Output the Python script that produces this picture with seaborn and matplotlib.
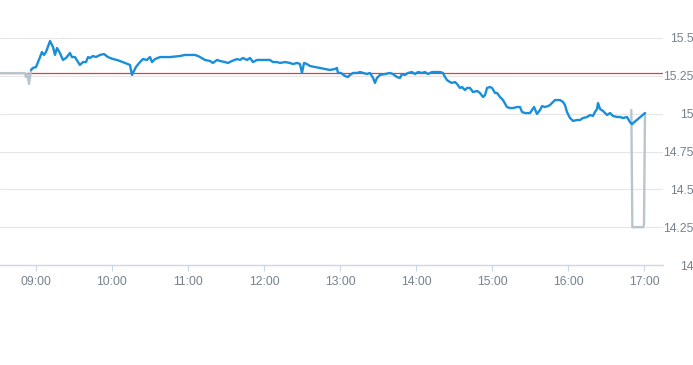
import matplotlib
matplotlib.use("Agg")
import matplotlib.pyplot as plt
import seaborn as sns
import pandas as pd
from matplotlib.ticker import FixedLocator, FuncFormatter

# ---- data: minutes after 09:00 and price ----
session_min = [
    -3.9, -2.4, 0.0, 3.2, 4.7, 6.3, 7.9, 11.1, 13.4, 15.0, 16.6, 18.9, 21.3, 23.7,
    26.8, 28.4, 30.8, 33.2, 34.7, 37.1, 39.5, 41.1, 42.6, 45.0, 47.4, 50.5, 53.7,
    56.8, 60.8, 63.9, 66.3, 70.3, 74.2, 75.8, 78.9, 82.1, 84.5, 87.6, 90.0, 91.6,
    94.0, 97.9, 105.8, 113.7, 117.6, 121.6, 125.5, 127.9, 129.5, 133.4, 137.4,
    139.7, 142.9, 145.3, 149.2, 151.6, 154.7, 158.7, 161.1, 163.4, 166.6, 169.0,
    171.3, 174.5, 179.2, 184.7, 187.1, 190.3, 192.6, 196.6, 200.5, 202.9, 206.1,
    208.4, 210.0, 211.6, 213.9, 216.3, 220.3, 224.2, 228.2, 232.1, 236.1, 237.6,
    238.4, 240.8, 243.9, 246.3, 247.9, 250.3, 253.4, 255.8, 258.2, 261.3, 263.7,
    266.1, 267.6, 269.2, 271.6, 275.5, 279.5, 281.8, 285.0, 287.4, 288.9, 291.3,
    293.7, 296.8, 299.2, 301.6, 304.7, 307.1, 309.5, 312.6, 316.6, 318.9, 321.3,
    322.9, 324.5, 326.8, 328.4, 330.8, 332.4, 334.7, 336.3, 338.7, 340.3, 342.6,
    345.0, 348.2, 350.5, 352.9, 354.5, 356.1, 358.4, 360.0, 362.4, 364.0, 366.3,
    368.7, 371.8, 374.2, 376.6, 379.7, 382.1, 383.7, 386.1, 390.0, 391.6, 393.2,
    395.5, 397.9, 399.5, 401.8, 404.2, 405.8, 408.2, 409.7, 411.3, 413.7, 416.1,
    417.6, 419.2, 421.6, 424.0, 427.1, 429.5, 431.8, 435.0, 437.4, 439.7, 441.3,
    442.9, 443.7, 445.3, 447.6, 450.8, 453.2, 455.5, 458.7, 461.1, 463.4, 466.6,
    468.9, 470.5, 480.8,
]
session_price = [
    15.289, 15.302, 15.308, 15.374, 15.407, 15.388, 15.407, 15.480, 15.441, 15.388,
    15.434, 15.401, 15.355, 15.368, 15.401, 15.374, 15.374, 15.341, 15.322, 15.341,
    15.341, 15.374, 15.368, 15.381, 15.374, 15.388, 15.394, 15.374, 15.361, 15.355,
    15.348, 15.335, 15.322, 15.256, 15.308, 15.341, 15.361, 15.355, 15.374, 15.341,
    15.361, 15.374, 15.374, 15.381, 15.388, 15.388, 15.388, 15.381, 15.374, 15.355,
    15.348, 15.335, 15.355, 15.348, 15.341, 15.335, 15.348, 15.361, 15.355, 15.368,
    15.355, 15.368, 15.341, 15.355, 15.355, 15.355, 15.341, 15.341, 15.335, 15.341,
    15.335, 15.328, 15.335, 15.328, 15.269, 15.335, 15.328, 15.315, 15.308, 15.302,
    15.295, 15.289, 15.295, 15.302, 15.269, 15.269, 15.249, 15.242, 15.256, 15.269,
    15.269, 15.275, 15.269, 15.262, 15.269, 15.236, 15.203, 15.236, 15.256, 15.262,
    15.269, 15.262, 15.242, 15.236, 15.262, 15.256, 15.269, 15.275, 15.262, 15.275,
    15.269, 15.275, 15.262, 15.275, 15.275, 15.275, 15.269, 15.242, 15.222, 15.209,
    15.203, 15.209, 15.196, 15.170, 15.176, 15.156, 15.170, 15.170, 15.143, 15.150,
    15.137, 15.110, 15.123, 15.170, 15.176, 15.170, 15.137, 15.137, 15.110, 15.090,
    15.044, 15.037, 15.037, 15.044, 15.044, 15.011, 15.004, 15.004, 15.024, 15.044,
    14.998, 15.024, 15.050, 15.044, 15.050, 15.057, 15.077, 15.090, 15.090, 15.090,
    15.077, 15.057, 15.011, 14.971, 14.952, 14.958, 14.958, 14.971, 14.978, 14.991,
    14.985, 15.011, 15.031, 15.070, 15.031, 15.018, 14.991, 15.004, 14.985, 14.978,
    14.978, 14.971, 14.978, 14.944, 14.931, 15.004,
]
pre_min = [-40.0, -8.7, -7.9, -6.8, -5.5, -3.9, -2.4]
pre_price = [15.268, 15.268, 15.242, 15.262, 15.196, 15.289, 15.302]
post_min = [470.0, 470.8, 479.5, 480.0, 480.8]
post_price = [15.024, 14.25, 14.25, 14.27, 15.004]
prev_close = 15.268

hour_ticks = [0, 60, 120, 180, 240, 300, 360, 420, 480]
hour_labels = ["09:00", "10:00", "11:00", "12:00", "13:00", "14:00", "15:00", "16:00", "17:00"]
price_ticks = [14.0, 14.25, 14.5, 14.75, 15.0, 15.25, 15.5]

sns.set_style("white")
plt.rcParams["font.family"] = ["Liberation Sans Narrow", "Liberation Sans", "DejaVu Sans"]

fig = plt.figure(figsize=(6.93, 3.65), dpi=100)
ax = fig.add_axes([0.0, 100 / 365, 663 / 693, 227 / 365])

grid_c = "#e6e6e6"
for p in price_ticks:
    ax.axhline(p, color=grid_c, lw=0.8, zorder=0)

ax.axhline(prev_close, color="#d0474a", lw=0.9, zorder=2)

pre_df = pd.DataFrame({"t": pre_min, "p": pre_price})
post_df = pd.DataFrame({"t": post_min, "p": post_price})
ses_df = pd.DataFrame({"t": session_min, "p": session_price})

sns.lineplot(data=pre_df, x="t", y="p", ax=ax, color="#b9c5cd", lw=1.7,
             estimator=None, sort=False, zorder=3)
sns.lineplot(data=post_df, x="t", y="p", ax=ax, color="#b9c5cd", lw=1.7,
             estimator=None, sort=False, zorder=3)
sns.lineplot(data=ses_df, x="t", y="p", ax=ax, color="#1a8fd9", lw=1.7,
             estimator=None, sort=False, zorder=4)

ax.set_xlim(-28.4, 495.0)
ax.set_ylim(14.0, 15.5)
ax.set_xlabel("")
ax.set_ylabel("")

for s in ["top", "left", "right"]:
    ax.spines[s].set_visible(False)
ax.spines["bottom"].set_color("#ccd6eb")
ax.spines["bottom"].set_linewidth(1.0)
ax.spines["bottom"].set_zorder(1)

ax.xaxis.set_major_locator(FixedLocator(hour_ticks))
ax.set_xticklabels(hour_labels)
ax.tick_params(axis="x", bottom=True, length=4, width=0.8, color="#ccd6eb",
               labelsize=8.8, labelcolor="#76828e", pad=4)

ax.yaxis.tick_right()
ax.yaxis.set_major_locator(FixedLocator(price_ticks))
ax.yaxis.set_major_formatter(FuncFormatter(lambda v, _: f"{v:g}"))
ax.tick_params(axis="y", right=False, left=False, length=0, labelsize=8.8,
               labelcolor="#76828e", pad=22.3)
for lab in ax.get_yticklabels():
    lab.set_horizontalalignment("right")

ax.set_facecolor("white")
fig.patch.set_facecolor("white")
fig.savefig("out.png", dpi=100)
